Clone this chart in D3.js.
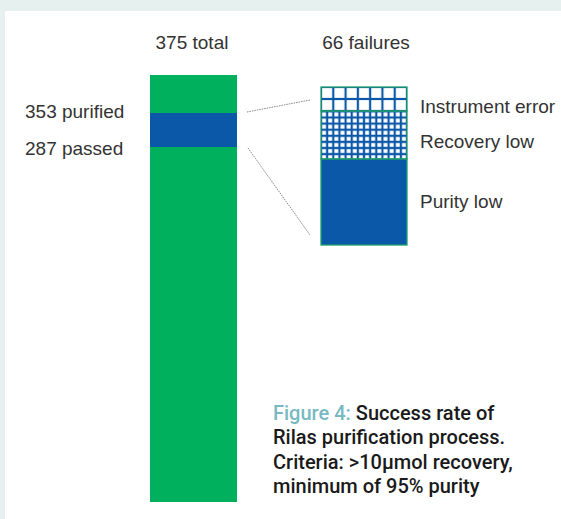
<!DOCTYPE html>
<html><head><meta charset="utf-8">
<script src="https://cdn.jsdelivr.net/npm/d3@7"></script>
<style>
html,body{margin:0;padding:0;background:#e6f0ef;}
svg{display:block;}
</style></head>
<body>
<svg id="c" width="561" height="519"></svg>
<script>
// Data
const mainCategories = ["passed", "failed", "not purified"];
const mainValues = [287, 66, 22];
const totalLabels = ["375 total", "66 failures"];
const sideLabels = ["353 purified", "287 passed"];
const sideValues = [353, 287];
const failCategories = ["Purity low", "Recovery low", "Instrument error"];
const failValues = [36, 20, 10];
const captionLines = [
  [["Figure 4: ", "#78b9c2"], ["Success rate of", "#1a1a1a"]],
  [["Rilas purification process.", "#1a1a1a"]],
  [["Criteria: >10\u03bcmol recovery,", "#1a1a1a"]],
  [["minimum of 95% purity", "#1a1a1a"]]
];

const green = "#00b05c", blue = "#0b58a8";
const svg = d3.select("#c");
svg.append("rect").attr("x",5).attr("y",11).attr("width",556).attr("height",508).attr("fill","#fff");

// main bar scale (not drawn to scale in the original: piecewise)
const total = d3.sum(mainValues);
const yMain = d3.scaleLinear().domain([0, 287, 353, total]).range([502, 147, 113, 75]);
const mainColors = d3.scaleOrdinal().domain(mainCategories).range([green, blue, green]);
let acc = 0;
const stacked = mainValues.map((v,i)=>{const s={cat:mainCategories[i],y0:acc,y1:acc+v}; acc+=v; return s;});
const bx = 150, bw = 87;
svg.selectAll("rect.main").data(stacked).enter().append("rect")
  .attr("x",bx).attr("width",bw)
  .attr("y",d=>yMain(d.y1)).attr("height",d=>yMain(d.y0)-yMain(d.y1))
  .attr("fill",d=>mainColors(d.cat));

// failure box
const fx = 321, fw = 86;
const yFail = d3.scaleLinear().domain([0, d3.sum(failValues)]).range([245, 87]);
const defs = svg.append("defs");
function grid(id, w, h, lw){
  const p = defs.append("pattern").attr("id",id).attr("patternUnits","userSpaceOnUse")
    .attr("x",fx).attr("y",87).attr("width",w).attr("height",h);
  p.append("rect").attr("width",w).attr("height",h).attr("fill",blue);
  p.append("rect").attr("x",lw/2).attr("y",lw/2).attr("width",w-lw).attr("height",h-lw).attr("fill","#fff");
}
grid("pInst", fw/7, 12, 2.2);
grid("pRec", fw/14, 6.1, 2.2);
const fills = {"Purity low":blue, "Recovery low":"url(#pRec)", "Instrument error":"url(#pInst)"};
acc = 0;
const fstack = failValues.map((v,i)=>{const s={cat:failCategories[i],y0:acc,y1:acc+v}; acc+=v; return s;});
svg.selectAll("rect.fail").data(fstack).enter().append("rect")
  .attr("x",fx).attr("width",fw)
  .attr("y",d=>yFail(d.y1)).attr("height",d=>yFail(d.y0)-yFail(d.y1))
  .attr("fill",d=>fills[d.cat]).attr("stroke","#1f9e6a").attr("stroke-width",1.3);

// connector dotted lines
svg.append("line").attr("x1",247).attr("y1",112).attr("x2",310).attr("y2",100)
  .attr("stroke","#888").attr("stroke-width",1).attr("stroke-dasharray","1.5,1");
svg.append("line").attr("x1",248).attr("y1",148).attr("x2",310).attr("y2",235)
  .attr("stroke","#888").attr("stroke-width",1).attr("stroke-dasharray","1.5,1");

const font = "'Liberation Sans', Arial, sans-serif";
const fs = 19;
// headers
svg.append("text").attr("x",192).attr("y",49).attr("text-anchor","middle")
  .attr("font-family",font).attr("font-size",fs).attr("fill","#333").text(totalLabels[0]);
svg.append("text").attr("x",366).attr("y",49).attr("text-anchor","middle")
  .attr("font-family",font).attr("font-size",fs).attr("fill","#333").text(totalLabels[1]);
// side labels
const sideY = [118, 155];
sideLabels.forEach((t,i)=>{
  svg.append("text").attr("x",25).attr("y",sideY[i]).attr("font-family",font)
    .attr("font-size",fs).attr("fill","#333").text(t);
});
// failure labels
const failLabelY = {"Instrument error":113, "Recovery low":148, "Purity low":208};
failCategories.forEach(c=>{
  svg.append("text").attr("x",420).attr("y",failLabelY[c]).attr("font-family",font)
    .attr("font-size",fs).attr("fill","#333").text(c);
});
// caption
captionLines.forEach((line,i)=>{
  const t = svg.append("text").attr("x",273).attr("y",420+i*24.3)
    .attr("font-family","Roboto, sans-serif").attr("font-weight",500).attr("font-size",20);
  line.forEach(([s,c])=>t.append("tspan").attr("fill",c).text(s));
});
</script>
</body></html>
